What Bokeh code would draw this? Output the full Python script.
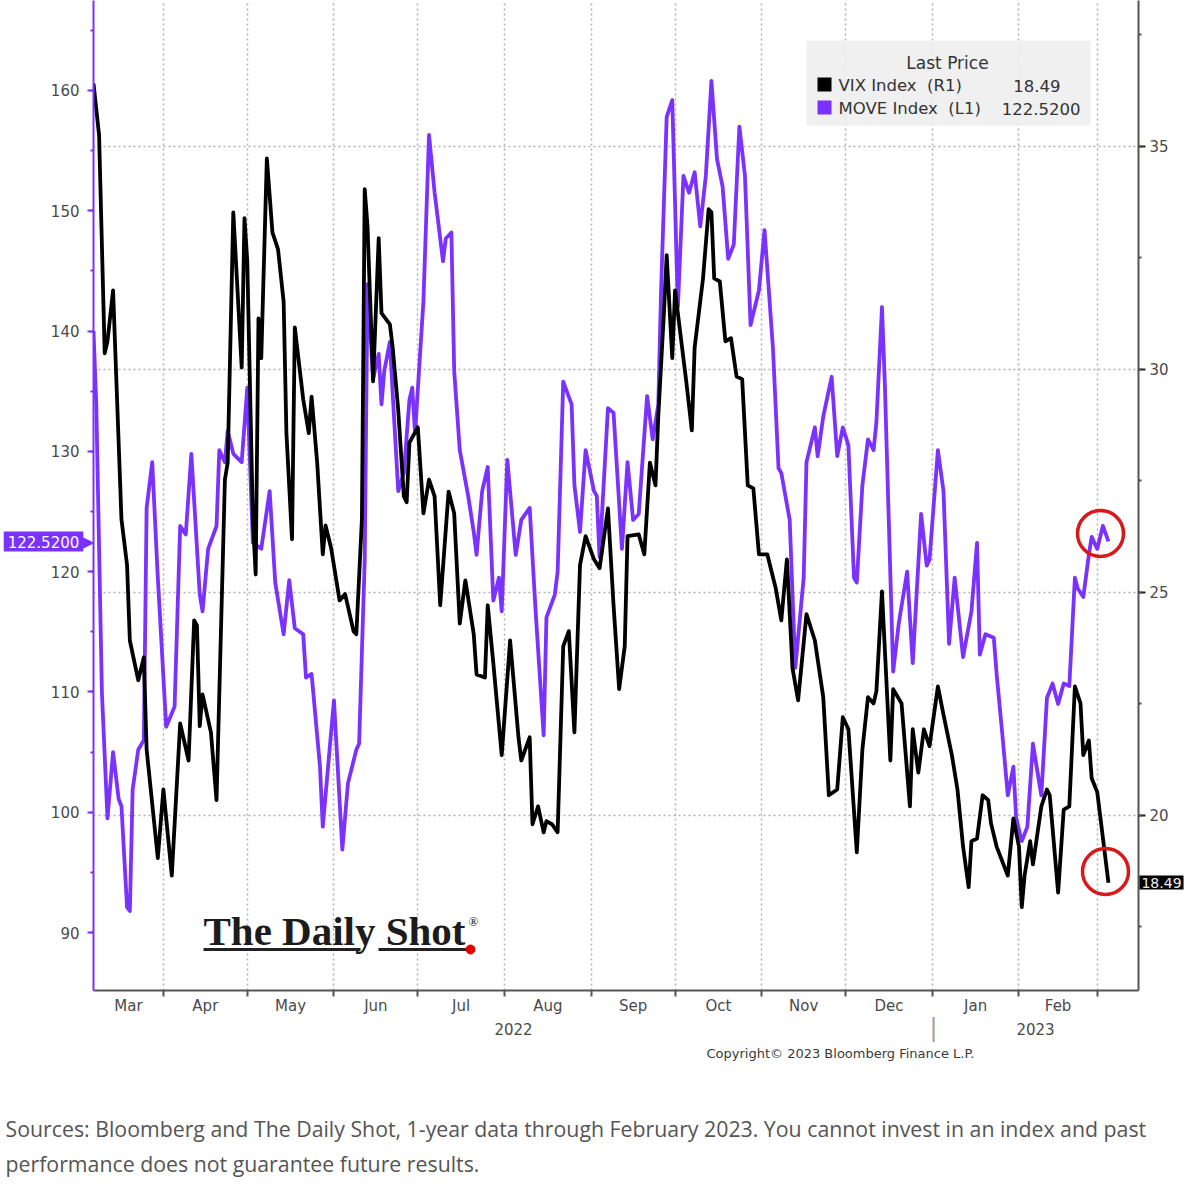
from datetime import date

from bokeh.embed import file_html
from bokeh.models import (BoxAnnotation, FixedTicker, Grid, Label, LinearAxis,
                          Range1d, SingleIntervalTicker)
from bokeh.plotting import figure
from bokeh.resources import INLINE

# days counted from the first observation, 2022-03-07
START = date(2022, 3, 7)

vix_day = [0, 2, 4, 5, 7, 10, 12, 13, 16, 18,
           19, 23, 25, 28, 31, 34, 36, 37, 38, 39,
           42, 44, 47, 48, 50, 53, 54, 55, 57, 58,
           59, 60, 62, 64, 66, 68, 69, 71, 72, 75,
           77, 78, 80, 82, 83, 85, 88, 90, 93, 94,
           96, 97, 98, 100, 102, 103, 106, 107, 109, 111,
           112, 113, 116, 118, 120, 122, 124, 127, 129, 131,
           133, 136, 137, 140, 141, 143, 146, 149, 152, 153,
           156, 157, 159, 161, 162, 164, 166, 168, 170, 172,
           174, 176, 179, 181, 184, 186, 188, 190, 191, 195,
           197, 199, 201, 202, 204, 205, 207, 208, 209, 212,
           214, 215, 218, 220, 221, 222, 224, 226, 228, 230,
           232, 234, 236, 238, 241, 244, 246, 248, 250, 252,
           255, 258, 261, 263, 266, 268, 270, 273, 275, 277,
           279, 280, 282, 285, 286, 289, 292, 293, 295, 297,
           299, 302, 304, 307, 309, 311, 313, 314, 316, 318,
           320, 321, 323, 327, 329, 331, 332, 333, 335, 336,
           339, 341, 342, 345, 347, 349, 351, 353, 354, 356,
           357, 359, 363]
vix = [36.41, 35.25, 30.36, 30.63, 31.77, 26.64, 25.61, 23.92, 23.03, 23.54,
       21.48, 19.04, 20.58, 18.65, 22.06, 21.23, 24.37, 24.26, 22.0, 22.71,
       21.86, 20.34, 27.53, 27.91, 33.52, 30.04, 33.39, 32.42, 26.64, 25.4,
       31.14, 30.25, 34.73, 33.07, 32.69, 31.52, 28.57, 26.19, 30.94, 29.33,
       28.57, 29.39, 27.91, 25.85, 26.5, 25.99, 24.82, 24.96, 24.13, 24.06,
       26.64, 34.04, 33.21, 29.73, 32.94, 31.26, 31.01, 30.49, 29.08, 27.15,
       27.02, 28.36, 28.7, 26.77, 27.53, 27.15, 24.71, 27.26, 26.77, 24.3,
       25.27, 24.06, 23.16, 23.09, 24.71, 23.41, 21.35, 23.92, 21.75, 21.23,
       21.75, 19.8, 20.2, 19.62, 19.87, 19.8, 19.62, 23.79, 24.13, 21.86,
       25.61, 26.26, 25.74, 25.54, 26.88, 24.71, 22.83, 23.79, 26.26, 26.3,
       25.85, 27.91, 27.4, 28.95, 31.26, 32.56, 30.25, 31.77, 31.26, 29.73,
       28.63, 30.49, 32.04, 33.59, 33.52, 32.04, 31.97, 30.63, 30.7, 29.84,
       29.78, 27.4, 27.33, 25.85, 25.85, 25.09, 24.37, 25.74, 23.3, 22.58,
       24.51, 23.92, 22.65, 20.45, 20.58, 22.2, 21.93, 19.17, 21.48, 22.65,
       22.51, 22.78, 25.02, 21.23, 22.83, 22.51, 20.2, 21.93, 20.96, 21.93,
       21.55, 22.89, 22.26, 21.35, 20.58, 19.3, 18.39, 19.42, 19.48, 20.45,
       20.34, 19.82, 19.3, 18.65, 19.93, 19.3, 17.94, 18.65, 19.42, 18.9,
       20.2, 20.58, 20.45, 18.27, 20.13, 20.2, 22.89, 22.51, 21.35, 21.68,
       20.83, 20.52, 18.49]

move_day = [0, 1, 3, 5, 7, 9, 10, 12, 13, 14,
            16, 18, 19, 21, 23, 26, 29, 31, 33, 35,
            38, 39, 41, 44, 45, 47, 48, 50, 53, 55,
            57, 60, 63, 65, 68, 70, 72, 75, 76, 78,
            81, 82, 86, 89, 91, 94, 95, 97, 98, 100,
            102, 103, 104, 106, 107, 109, 111, 113, 114, 115,
            118, 120, 122, 123, 125, 126, 128, 129, 131, 134,
            136, 137, 139, 141, 143, 145, 146, 148, 151, 153,
            156, 158, 161, 162, 165, 166, 168, 171, 172, 174,
            176, 179, 180, 181, 184, 186, 189, 191, 193, 195,
            198, 200, 202, 203, 205, 207, 209, 211, 213, 215,
            217, 219, 221, 223, 225, 227, 229, 231, 233, 235,
            238, 240, 243, 245, 246, 249, 251, 254, 255, 258,
            259, 261, 264, 266, 268, 270, 272, 273, 275, 277,
            279, 280, 282, 283, 286, 288, 291, 293, 296, 298,
            299, 302, 304, 306, 308, 311, 314, 316, 317, 319,
            322, 323, 325, 327, 329, 330, 332, 334, 336, 338,
            339, 341, 343, 345, 347, 349, 351, 352, 354, 356,
            357, 359, 361, 363]
move = [140.0, 133.9, 110.0, 99.5, 105.0, 101.1, 100.5, 92.1, 91.8, 101.9,
        105.2, 106.0, 125.3, 129.1, 119.5, 107.1, 108.8, 123.8, 123.1, 129.8,
        118.1, 116.7, 121.9, 123.8, 130.1, 129.1, 131.7, 129.8, 129.1, 135.3,
        122.4, 121.9, 126.7, 119.1, 114.8, 119.3, 115.3, 114.8, 111.2, 111.5,
        103.8, 98.8, 109.3, 96.9, 102.4, 105.2, 105.7, 121.0, 143.9, 136.0,
        138.1, 133.9, 136.7, 139.1, 134.8, 126.7, 128.2, 134.3, 135.3, 131.5,
        142.5, 156.3, 151.5, 149.6, 145.8, 147.7, 148.2, 136.7, 130.1, 126.3,
        123.3, 121.4, 126.7, 128.7, 117.6, 119.5, 116.7, 129.3, 121.4, 124.3,
        125.3, 117.2, 106.4, 116.2, 118.1, 120.0, 135.8, 133.9, 127.2, 123.3,
        130.1, 126.7, 126.3, 121.2, 133.6, 133.2, 121.9, 129.1, 124.3, 124.8,
        134.6, 131.0, 133.9, 143.4, 157.8, 159.2, 142.0, 152.9, 151.5, 153.2,
        148.7, 152.9, 160.8, 154.3, 152.0, 146.0, 147.2, 157.0, 152.9, 140.5,
        143.4, 148.4, 138.6, 128.6, 128.2, 124.3, 112.0, 119.5, 129.1, 132.0,
        129.6, 132.9, 136.2, 129.6, 132.0, 130.5, 119.5, 119.1, 127.2, 131.0,
        130.1, 132.4, 142.0, 135.8, 111.7, 115.7, 120.0, 112.4, 124.8, 120.5,
        121.0, 130.1, 126.7, 114.0, 119.5, 112.9, 116.7, 122.4, 113.1, 114.8,
        114.5, 111.5, 106.6, 101.4, 103.8, 99.5, 97.6, 98.8, 105.7, 102.8,
        101.4, 109.5, 110.7, 109.0, 110.7, 110.5, 119.5, 118.6, 117.9, 121.4,
        122.9, 121.9, 123.8, 122.52]

month_names = ["Mar", "Apr", "May", "Jun", "Jul", "Aug",
               "Sep", "Oct", "Nov", "Dec", "Jan", "Feb"]
month_firsts = [date(2022, m, 1) for m in range(4, 13)] + \
               [date(2023, m, 1) for m in range(1, 4)]

PURPLE = "#7b32ff"
GREY_TXT = "#4a4a4a"
AX_FONT = "DejaVu Sans"
NB = "\u00a0"

# placement helpers: reference-pixel position -> plot coordinates
PX_DAY = 2.796
def fx(px):
    return (px - 93) / PX_DAY

def fy(py):
    return 167.48 - py / 12.03

def fv(py):
    return 38.27 - py / 44.6

bounds = [0] + [(d - START).days for d in month_firsts]
mids = [(bounds[i] + bounds[i + 1]) / 2 for i in range(len(month_names))]

p = figure(width=1184, height=1178, output_backend="svg", toolbar_location=None,
           x_range=Range1d(0, 1045 / PX_DAY), y_range=Range1d(fy(990), fy(0)),
           x_axis_type=None, y_axis_type=None,
           min_border_left=93, min_border_right=46, min_border_top=0,
           min_border_bottom=188)
p.outline_line_color = None
p.background_fill_color = "white"
p.border_fill_color = "white"
p.extra_y_ranges = {"vix": Range1d(fv(990), fv(0))}

left = LinearAxis(ticker=SingleIntervalTicker(interval=10, num_minor_ticks=2))
left.axis_line_color = PURPLE
left.axis_line_width = 2
left.major_tick_line_color = PURPLE
left.major_tick_line_width = 2
left.major_tick_out = 6
left.major_tick_in = 0
left.minor_tick_line_color = PURPLE
left.minor_tick_line_width = 2
left.minor_tick_out = 3
left.minor_tick_in = 0
left.major_label_standoff = 8
p.add_layout(left, "left")

right = LinearAxis(y_range_name="vix",
                   ticker=SingleIntervalTicker(interval=5, num_minor_ticks=2))
right.axis_line_color = "#555555"
right.axis_line_width = 2
right.major_tick_line_color = "#222222"
right.major_tick_line_width = 2
right.major_tick_out = 7
right.major_tick_in = 0
right.minor_tick_line_color = "#555555"
right.minor_tick_line_width = 2
right.minor_tick_out = 3
right.minor_tick_in = 0
right.major_label_standoff = 4
p.add_layout(right, "right")

bottom = LinearAxis(ticker=FixedTicker(ticks=mids, minor_ticks=bounds[1:]))
bottom.major_label_overrides = {m: n for m, n in zip(mids, month_names)}
bottom.axis_line_color = "#555555"
bottom.axis_line_width = 2
bottom.major_tick_out = 0
bottom.major_tick_in = 0
bottom.minor_tick_line_color = "#555555"
bottom.minor_tick_line_width = 2
bottom.minor_tick_out = 6
bottom.minor_tick_in = 0
bottom.major_label_standoff = 0
p.add_layout(bottom, "below")

for ax in (left, right, bottom):
    ax.major_label_text_font = AX_FONT
    ax.major_label_text_font_size = "15px"
    ax.major_label_text_color = GREY_TXT

p.add_layout(Grid(dimension=0, ticker=FixedTicker(ticks=bounds[1:]),
                  grid_line_color="#b0b0b0", grid_line_dash="2 3",
                  grid_line_width=1.5))
p.add_layout(Grid(dimension=1, y_range_name="vix",
                  ticker=SingleIntervalTicker(interval=5),
                  grid_line_color="#b0b0b0", grid_line_dash="2 3",
                  grid_line_width=1.5))

# legend box
p.add_layout(BoxAnnotation(left=fx(806), right=fx(1090), top=fy(40), bottom=fy(125),
                           fill_color="#eeeeee", fill_alpha=0.9, line_alpha=0,
                           level="underlay"))
p.add_layout(BoxAnnotation(left=fx(817), right=fx(831), top=fy(77), bottom=fy(91),
                           fill_color="black", fill_alpha=1, line_alpha=0))
p.add_layout(BoxAnnotation(left=fx(817), right=fx(831), top=fy(100), bottom=fy(114),
                           fill_color=PURPLE, fill_alpha=1, line_alpha=0))

def label(px, py, text, size="15px", color=GREY_TXT, align="left",
          font=AX_FONT, baseline="middle", place=None, **kw):
    lbl = Label(x=fx(px), y=fy(py), text=text, text_align=align,
                text_baseline=baseline, text_font=font,
                text_font_size=size, text_color=color, **kw)
    # labels outside the frame go into a side panel so they are not clipped
    if place:
        p.add_layout(lbl, place)
    else:
        p.add_layout(lbl)

label(947, 62, "Last Price", "17px", "#333333", "center")
label(838, 85, "VIX Index" + NB * 2 + "(R1)", "16.5px", "#333333")
label(1060, 85, "18.49", "16.5px", "#333333", "right")
label(838, 108, "MOVE Index" + NB * 2 + "(L1)", "16.5px", "#333333")
label(1080, 108, "122.5200", "16.5px", "#333333", "right")

# The Daily Shot mark
label(203, 930, "The Daily Shot", "41px", "#1c1c1c", font="Liberation Serif",
      text_font_style="bold")
label(468, 921, "®", "13px", "#1c1c1c", font="Liberation Serif")
p.line([fx(203), fx(360)], [fy(949), fy(949)], line_width=3, color="#222222")
p.line([fx(378), fx(466)], [fy(949), fy(949)], line_width=3, color="#222222")
p.scatter([fx(470)], [fy(949)], size=9, color="#e00000")

# series
p.line(move_day, move, line_color=PURPLE, line_width=3.8, line_join="round")
p.line(vix_day, vix, line_color="black", line_width=3.8, line_join="round",
       y_range_name="vix")

# red highlight rings
p.scatter([fx(1100), fx(1105)], [fy(533), fy(871)], size=46, marker="circle",
          fill_alpha=0, line_color="#d7191c", line_width=3.5)

# last-value tags
label(43, 541, "122.5200", "15px", "white", "center", place="below",
      background_fill_color=PURPLE, background_fill_alpha=1, padding=4)
label(88, 541, "\u25b6", "15px", PURPLE, "center", place="left")
label(1161, 882, "18.49", "14px", "#f0f0f0", "center", place="below",
      background_fill_color="black", background_fill_alpha=1, padding=2)

# year labels and separator
label(513, 1028, "2022", align="center", place="below")
label(1035, 1028, "2023", align="center", place="below")
label(933, 1027, "|", "24px", "#a0a0a0", "center", place="left")

label(706, 1053, "Copyright\u00a9 2023 Bloomberg Finance L.P.", "13px", "#3a3a3a",
      place="below")

label(5, 1128, "Sources: Bloomberg and The Daily Shot, 1-year data through February 2023. "
      "You cannot invest in an index and past", "21.3px", "#555555", font="Open Sans",
      place="below")
label(5, 1163, "performance does not guarantee future results.", "21.3px", "#555555",
      font="Open Sans", place="below")

open("out.html", "w").write(file_html(p, INLINE))
